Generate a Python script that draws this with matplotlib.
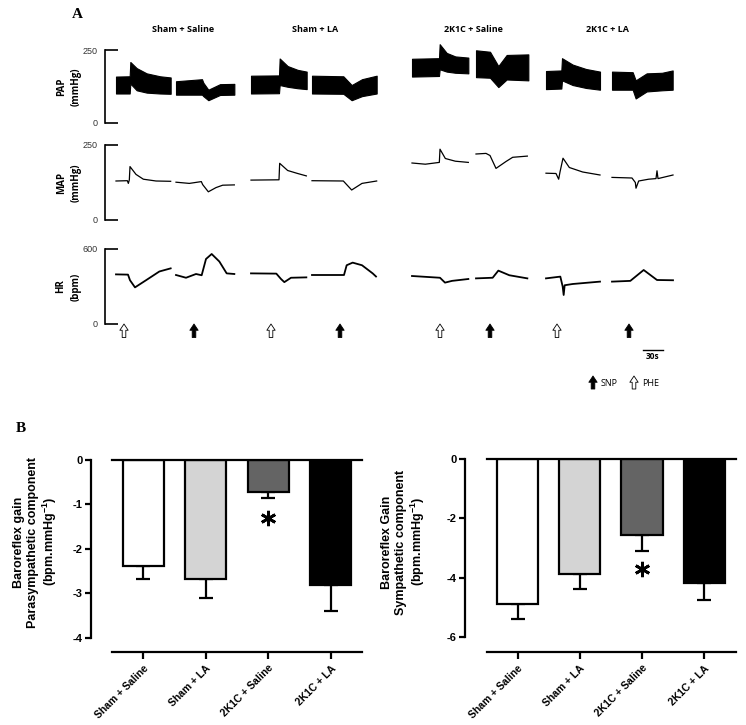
import numpy as np
import matplotlib.pyplot as plt
from matplotlib.transforms import blended_transform_factory

W, H = 746, 725
plt.rcParams['font.family'] = ['Liberation Sans', 'DejaVu Sans']
plt.rcParams['mathtext.fontset'] = 'custom'
plt.rcParams['mathtext.bf'] = 'Liberation Sans:bold'
plt.rcParams['mathtext.rm'] = 'Liberation Sans:bold'
plt.rcParams['mathtext.default'] = 'bf'

# ---------------- panel A data ----------------
# times in s, each trace relative to its own start; two traces per group (PHE then SNP)
groups = ['Sham + Saline', 'Sham + LA', '2K1C + Saline', '2K1C + LA']
seg_start = [16.5, 106.5, 219, 310.5, 460.5, 556.5, 661.5, 760.5]
arrow_t = [28.5, 133.5, 249, 352.5, 502.5, 577.5, 678, 786]
arrow_kind = ['PHE', 'SNP', 'PHE', 'SNP', 'PHE', 'SNP', 'PHE', 'SNP']

# pulsatile arterial pressure, upper / lower envelope (mmHg)
pap_t = [
    [0, 20.5, 21.5, 31, 46, 66, 82],
    [0, 39, 41, 48.5, 66, 87.5],
    [0, 42, 43, 55, 70, 83.5],
    [0, 47, 59.5, 75, 97],
    [0, 40.5, 41.5, 52, 65, 84.5],
    [0, 21, 33.5, 46, 78.5],
    [0, 23, 24, 40, 60, 81],
    [0, 31, 35.5, 52, 75, 91],
]
pap_top = [
    [159, 160, 209, 188, 170, 160, 156],
    [143, 150, 138, 114, 133, 134],
    [162, 163, 221, 195, 182, 176],
    [162, 160, 130, 150, 162],
    [220, 222, 270, 240, 228, 224],
    [249, 244, 195, 233, 235],
    [178, 180, 222, 200, 185, 176],
    [176, 174, 146, 170, 172, 180],
]
pap_bot = [
    [101, 101, 135, 112, 104, 101, 100],
    [97, 97, 92, 78, 96, 97],
    [101, 102, 130, 124, 119, 116],
    [101, 100, 78, 92, 101],
    [159, 161, 184, 176, 172, 170],
    [157, 155, 123, 149, 146],
    [116, 118, 146, 130, 120, 114],
    [114, 114, 84, 108, 112, 114],
]

# mean arterial pressure (mmHg)
map_t = [
    [0, 17, 18.5, 20, 21, 30, 41, 60, 82],
    [0, 20, 38, 40, 48.5, 60, 70, 87.5],
    [0, 42, 43, 55, 70, 83],
    [0, 47, 59.5, 75, 97],
    [0, 20, 41, 42, 50, 65, 84.5],
    [0, 15, 21, 30, 45, 55, 77],
    [0, 15, 19, 21, 25.5, 35, 55, 81],
    [0, 30, 35, 36, 40, 55, 66, 67.5, 69, 91.5],
]
map_v = [
    [130, 131, 122, 134, 178, 152, 136, 130, 129],
    [126, 122, 128, 118, 94, 108, 116, 117],
    [133, 134, 189, 165, 155, 147],
    [131, 130, 100, 122, 130],
    [190, 186, 192, 236, 205, 196, 192],
    [220, 222, 215, 172, 195, 209, 213],
    [156, 155, 136, 160, 206, 175, 160, 150],
    [142, 140, 125, 106, 130, 136, 138, 164, 138, 150],
]

# heart rate (bpm)
hr_t = [
    [0, 18, 21, 28.5, 45, 65, 82],
    [0, 15, 30, 38.5, 45, 53.5, 65, 76, 87.5],
    [0, 38, 45, 50, 60, 83],
    [0, 48, 52, 61, 75, 91, 96],
    [0, 42, 49.5, 60, 84.5],
    [0, 25, 33.5, 50, 77],
    [0, 21.5, 25, 26.5, 28, 40, 81],
    [0, 27.5, 47.5, 67.5, 91.5],
]
hr_v = [
    [397, 395, 350, 293, 350, 420, 445],
    [392, 370, 400, 390, 520, 560, 500, 405, 400],
    [405, 403, 360, 335, 370, 373],
    [392, 392, 470, 491, 470, 405, 380],
    [384, 370, 331, 345, 360],
    [365, 370, 427, 390, 365],
    [365, 379, 300, 232, 310, 320, 339],
    [339, 345, 432, 352, 350],
]

# ---------------- panel B data ----------------
conds = ['Sham + Saline', 'Sham + LA', '2K1C + Saline', '2K1C + LA']
bar_colors = ['white', '#d4d4d4', '#646464', 'black']
para_mean = [-2.39, -2.67, -0.72, -2.82]
para_sem = [0.28, 0.43, 0.14, 0.58]
para_star = -1.31
symp_mean = [-4.87, -3.86, -2.57, -4.17]
symp_sem = [0.51, 0.52, 0.53, 0.59]
symp_star = -3.71
star_idx = 2


def px_axes(fig, left, top, right, bottom):
    return fig.add_axes([left / W, 1 - bottom / H, (right - left) / W, (bottom - top) / H])


fig = plt.figure(figsize=(W / 100, H / 100), dpi=100)

# ---------------- panel A ----------------
rows = [('PAP\n(mmHg)', 250, 50, 123), ('MAP\n(mmHg)', 250, 145, 220), ('HR\n(bpm)', 600, 249, 324)]
axA = []
for label, ymax, top, bottom in rows:
    ax = px_axes(fig, 105, top, 690, bottom)
    ax.set_xlim(0, 877.5)
    ax.set_ylim(0, ymax)
    for s in ['top', 'right', 'bottom']:
        ax.spines[s].set_visible(False)
    ax.spines['left'].set_linewidth(1.2)
    ax.set_xticks([])
    ax.set_yticks([0, ymax])
    ax.tick_params(axis='y', direction='in', length=9, width=1.2, pad=5,
                   labelsize=6.5, labelcolor='#333333')
    ax.set_ylabel(label, fontsize=7, fontweight='bold', family='Open Sans',
                  labelpad=1, linespacing=1.5)
    ax.patch.set_visible(False)
    axA.append(ax)

for i in range(8):
    t0 = seg_start[i]
    axA[0].fill_between(np.array(pap_t[i]) + t0, pap_bot[i], pap_top[i],
                        color='black', lw=0.8, clip_on=False)
    axA[1].plot(np.array(map_t[i]) + t0, map_v[i], color='black', lw=0.9)
    axA[2].plot(np.array(hr_t[i]) + t0, hr_v[i], color='black', lw=1.3)

group_x = [117, 315, 552, 754.5]
for g, gx in zip(groups, group_x):
    axA[0].text(gx, 250 * (1 + 21 / 73), g, ha='center', va='center', fontsize=6.5,
                fontweight='bold', family='Open Sans')

arrow_style = 'simple,head_length=0.45,head_width=0.6,tail_width=0.26'
hr_ax = axA[2]
trans = blended_transform_factory(hr_ax.transData, hr_ax.transAxes)
for t, kind in zip(arrow_t, arrow_kind):
    fc = 'black' if kind == 'SNP' else 'white'
    hr_ax.annotate('', xy=(t, -0.0), xycoords=trans, xytext=(t, -0.18), textcoords=trans,
                   arrowprops=dict(arrowstyle=arrow_style, fc=fc, ec='black', lw=0.6,
                                   shrinkA=0, shrinkB=0, mutation_scale=10))

# 30 s scale bar
hr_ax.plot([807, 837], [-0.347, -0.347], transform=trans, color='black', lw=1, clip_on=False)
hr_ax.text(822, -0.44, '30s', transform=trans, ha='center', va='center', fontsize=6,
           fontweight='bold', family='Open Sans')

# legend for arrows
for xp, kind, lab in [(593, 'SNP', 'SNP'), (634, 'PHE', 'PHE')]:
    fc = 'black' if kind == 'SNP' else 'white'
    hr_ax.annotate('', xy=(xp, H - 376), xycoords='figure pixels', xytext=(xp, H - 389),
                   textcoords='figure pixels',
                   arrowprops=dict(arrowstyle=arrow_style, fc=fc, ec='black', lw=0.6,
                                   shrinkA=0, shrinkB=0, mutation_scale=10))
    fig.text((xp + 8) / W, 1 - 383 / H, lab, ha='left', va='center', fontsize=6.5,
             family='Open Sans')

fig.text(77 / W, 1 - 14 / H, 'A', ha='center', va='center', fontsize=11,
         fontweight='bold', family='Liberation Serif')
fig.text(21 / W, 1 - 428 / H, 'B', ha='center', va='center', fontsize=11,
         fontweight='bold', family='Liberation Serif')

# ---------------- panel B ----------------
x = np.arange(len(conds))


def bar_panel(ax, means, sems, star_y, yticks, ylim, xlim, outward):
    ax.bar(x, means, width=0.66, color=bar_colors, edgecolor='black', linewidth=1.6, zorder=2)
    ax.errorbar(x, means, yerr=[sems, np.zeros(len(sems))], fmt='none', ecolor='black',
                elinewidth=1.6, capsize=5, capthick=1.6, zorder=1)
    ax.plot(x[star_idx], star_y, marker=(6, 2, 0), ms=11, mew=2.0, color='black', zorder=3)
    ax.set_xlim(*xlim)
    ax.set_ylim(*ylim)
    ax.spines['right'].set_visible(False)
    for s in ['top', 'bottom', 'left']:
        ax.spines[s].set_linewidth(1.6)
    ax.spines['left'].set_position(('outward', outward))
    ax.spines['left'].set_bounds(yticks[-1], 0)
    ax.set_yticks(yticks)
    ax.set_yticklabels([str(v) for v in yticks], fontweight='bold')
    ax.set_xticks(x)
    ax.set_xticklabels(conds, rotation=45, ha='right', rotation_mode='anchor',
                       fontweight='bold', fontsize=7.5)
    ax.tick_params(axis='y', length=4, width=1.6, labelsize=8, pad=2)
    ax.tick_params(axis='x', length=5, width=1.6, pad=3)


axB1 = px_axes(fig, 112, 460, 362, 652)
bar_panel(axB1, para_mean, para_sem, para_star, [0, -1, -2, -3, -4], (-4.315, 0), (-0.5, 3.5), 15)
axB2 = px_axes(fig, 487, 459, 736, 652)
bar_panel(axB2, symp_mean, symp_sem, symp_star, [0, -2, -4, -6], (-6.5, 0), (-0.49, 3.51), 16)

fig.text(36 / W, 1 - 542 / H, 'Baroreflex gain\nParasympathetic component\n(bpm.mmHg$^{-1}$)',
         rotation=90, ha='center', va='center', fontsize=9, fontweight='bold', linespacing=1.15)
fig.text(404 / W, 1 - 542 / H, 'Baroreflex Gain\nSympathetic component\n(bpm.mmHg$^{-1}$)',
         rotation=90, ha='center', va='center', fontsize=9, fontweight='bold', linespacing=1.15)

fig.savefig('out.png', dpi=100)
